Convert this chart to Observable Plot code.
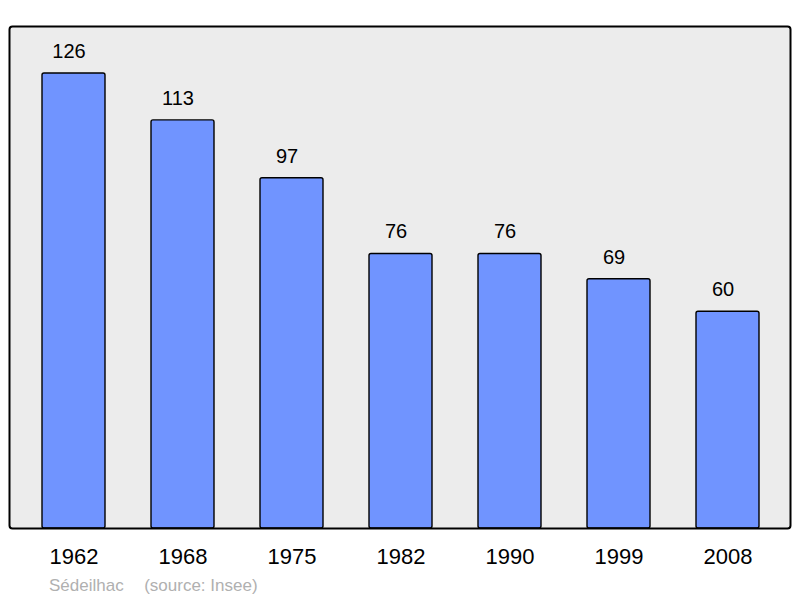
<!DOCTYPE html>
<html>
<head>
<meta charset="utf-8">
<script src="https://cdn.jsdelivr.net/npm/d3@7"></script>
<script src="https://cdn.jsdelivr.net/npm/@observablehq/plot@0.6"></script>
<style>
  html, body { margin: 0; padding: 0; background: #ffffff; }
  #chart { width: 800px; }
  #caption {
    font-family: "Liberation Sans", Arial, sans-serif;
    font-size: 17px;
    color: #b0b0b0;
    white-space: pre;
    padding-left: 49px;
    padding-top: 4px;
    height: 22px;
    line-height: 20px;
  }
  #caption span.src { margin-left: 20.5px; }
</style>
</head>
<body>
<div id="chart"></div>
<div id="caption"><span>Sédeilhac</span><span class="src">(source: Insee)</span></div>
<script>
const years = ["1962", "1968", "1975", "1982", "1990", "1999", "2008"];
const population = [126, 113, 97, 76, 76, 69, 60];

const data = years.map((year, i) => ({year, value: population[i]}));

const chart = Plot.plot({
  width: 800,
  height: 572,
  marginTop: 26,
  marginBottom: 44,
  marginLeft: 9,
  marginRight: 10,
  style: {fontFamily: "Liberation Sans, Arial, sans-serif", background: "#ffffff"},
  x: {domain: years, range: [17.5, 783.6], paddingInner: 0.425, paddingOuter: 0.2125, label: null},
  y: {domain: [0, 139], axis: null},
  marks: [
    Plot.frame({fill: "#ececec", stroke: "none", rx: 3}),
    Plot.barY(data, {x: "year", y: "value", fill: "#7094ff", stroke: "#000000", strokeWidth: 1.4, rx: 2}),
    Plot.text(data, {x: "year", y: "value", text: d => String(d.value), dy: -22, dx: -5, fontSize: 20, fill: "#000000"}),
    Plot.frame({fill: "none", stroke: "#000000", strokeWidth: 2, rx: 3}),
    Plot.axisX({tickSize: 0, tickPadding: 20, fontSize: 22, fill: "#000000", label: null})
  ]
});
document.getElementById("chart").appendChild(chart);
</script>
</body>
</html>
